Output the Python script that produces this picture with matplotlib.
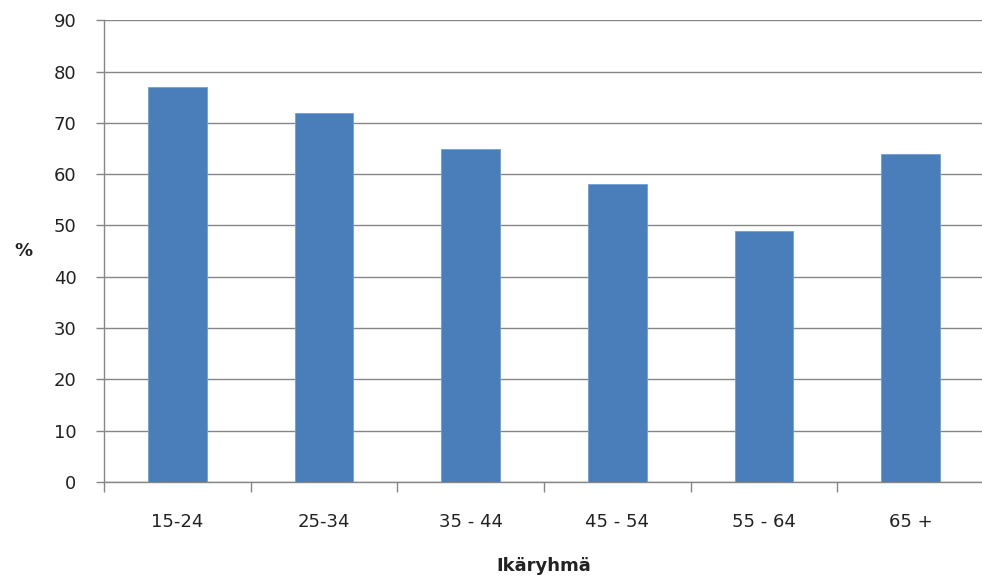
import numpy as np
import matplotlib.pyplot as plt

age_groups = ["15-24", "25-34", "35 - 44", "45 - 54", "55 - 64", "65 +"]
shares = [77, 72, 65, 58, 49, 64]
y_ticks = list(range(0, 91, 10))

plt.rcParams["font.family"] = "DejaVu Sans"

fig = plt.figure(figsize=(9.82, 5.78), dpi=100)
ax = fig.add_axes([0.106, 0.166, 0.896, 0.799])

x = np.arange(len(age_groups))
ax.bar(x, shares, width=0.4, color="#4a7ebb", edgecolor="#6fa0d8", linewidth=0.6, zorder=3)

ax.set_xlim(-0.5, len(age_groups) - 0.5)
ax.set_ylim(0, 90)
ax.set_yticks(y_ticks)
ax.set_yticklabels([str(v) for v in y_ticks], fontsize=13, color="#222222")
ax.set_xticks(x)
ax.set_xticklabels(age_groups, fontsize=13, color="#222222")
ax.tick_params(axis="x", which="major", length=0, pad=22)
ax.set_xticks(np.arange(-0.5, len(age_groups) + 0.5, 1), minor=True)
ax.tick_params(axis="x", which="minor", length=7, width=1, color="#868686", direction="out")
ax.tick_params(axis="y", length=6, width=1, color="#868686", pad=14)

ax.grid(axis="y", color="#868686", linewidth=1, zorder=0)
for side in ["top", "right"]:
    ax.spines[side].set_visible(False)
for side in ["left", "bottom"]:
    ax.spines[side].set_color("#868686")
    ax.spines[side].set_linewidth(1)

ax.set_xlabel("Ikäryhmä", fontsize=13, fontweight="bold", color="#222222", labelpad=19)
ax.set_ylabel("%", fontsize=13, fontweight="bold", color="#222222", rotation=0, labelpad=22, va="center")

fig.savefig("out.png", dpi=100)
